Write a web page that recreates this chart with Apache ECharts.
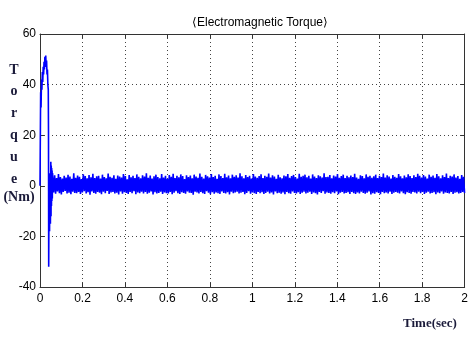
<!DOCTYPE html>
<html>
<head>
<meta charset="utf-8">
<script src="https://cdn.jsdelivr.net/npm/echarts@6/dist/echarts.min.js"></script>
<style>
  html, body { margin: 0; padding: 0; background: #fff; }
  #chart { width: 471px; height: 341px; }
</style>
</head>
<body>
<div id="chart"></div>
<script>
// x ticks (sec) and y ticks (Nm)
var timeTicks = [0, 0.2, 0.4, 0.6, 0.8, 1, 1.2, 1.4, 1.6, 1.8, 2];
var torqueTicks = [-40, -20, 0, 20, 40, 60];

// start-up transient, [time, torque]
var startTime = [0, 0.002, 0.003, 0.005, 0.007, 0.009, 0.011, 0.013, 0.015, 0.017, 0.019,
    0.021, 0.023, 0.025, 0.027, 0.029, 0.031, 0.033, 0.035, 0.037, 0.039, 0.040, 0.041,
    0.043, 0.045, 0.047, 0.049, 0.051, 0.052, 0.053, 0.054, 0.055, 0.056, 0.057, 0.058, 0.059];
var startTorque = [0, 0, 37, 31, 42, 38, 45, 41, 47, 44, 49,
    46, 51, 48, 51.5, 47, 49.5, 44, 46, 40, 38, 22, -32,
    5, -18, 3, -15, 9.5, -12, 8, -8, 7, -6, 6, -5, 5];

// steady state ripple, sampled every 4.5 ms from 0.06 s
var rippleStart = 0.06;
var rippleStep = 0.0045;
var rippleTorque = [
    3.8,-2.6,4.2,-3.1,3.1,-2.2,4.6,-2.9,3.5,-3.4,2.9,-2.4,4.0,-2.0,3.3,-3.0,4.4,-2.7,3.7,-3.3,2.8,-2.3,4.9,-2.8,
    3.2,-2.9,4.1,-2.4,3.6,-3.2,2.7,-2.6,4.5,-2.1,3.9,-3.0,3.0,-2.5,4.3,-3.5,3.4,-2.2,4.7,-2.8,3.1,-3.1,3.8,-2.4,
    4.0,-2.7,2.9,-3.3,4.4,-2.3,3.5,-2.9,3.0,-2.0,4.8,-3.2,3.6,-2.6,3.2,-2.4,4.2,-3.0,2.8,-2.7,4.1,-3.4,3.7,-2.2,
    3.3,-3.1,4.6,-2.5,3.9,-2.8,2.6,-3.2,4.3,-2.4,3.4,-2.9,4.0,-2.1,3.1,-3.3,4.5,-2.6,3.6,-2.9,3.0,-2.3,4.2,-3.0,
    3.7,-2.4,4.9,-3.1,3.2,-2.7,4.1,-2.2,2.9,-3.4,3.8,-2.5,4.4,-3.0,3.5,-2.8,3.0,-2.3,4.6,-3.2,3.3,-2.6,4.0,-2.9,
    2.8,-3.0,4.3,-2.4,3.6,-3.3,4.7,-2.7,3.1,-2.1,4.0,-2.9,3.4,-3.2,4.5,-2.5,3.9,-2.8,2.7,-3.1,4.2,-2.2,3.5,-2.7,
    4.1,-2.8,3.0,-3.5,4.4,-2.3,3.7,-2.6,3.2,-3.0,4.8,-2.4,3.6,-2.9,2.9,-3.2,4.3,-2.1,3.8,-2.7,3.3,-3.3,4.6,-2.5,
    3.5,-3.1,4.0,-2.6,2.8,-2.9,4.5,-3.2,3.9,-2.2,3.1,-2.8,4.7,-3.0,3.4,-2.5,4.1,-3.4,3.0,-2.3,4.4,-2.9,3.6,-2.6,
    4.2,-2.3,3.3,-3.0,4.9,-2.7,3.8,-2.4,3.0,-3.3,4.3,-2.8,3.5,-2.1,4.0,-3.1,2.9,-2.6,4.6,-2.9,3.7,-3.2,3.2,-2.4,
    3.9,-2.9,4.5,-2.5,3.1,-3.2,4.0,-2.8,3.6,-2.3,4.8,-3.0,3.3,-2.6,4.2,-3.4,3.7,-2.2,2.8,-2.9,4.4,-2.7,3.4,-3.1,
    3.0,-2.6,4.1,-3.3,3.8,-2.4,4.6,-2.9,3.2,-3.1,3.9,-2.2,4.3,-2.8,3.5,-3.0,2.9,-2.5,4.7,-3.2,3.6,-2.7,4.0,-2.3,
    4.4,-3.0,3.4,-2.7,4.0,-2.3,2.9,-3.2,4.5,-2.6,3.7,-2.9,3.1,-3.4,4.2,-2.4,3.8,-2.8,3.3,-2.1,4.9,-3.1,3.5,-2.6,
    3.6,-2.8,4.3,-3.1,3.0,-2.5,4.1,-2.9,3.7,-2.2,4.6,-3.3,3.2,-2.7,3.9,-2.4,4.4,-3.0,3.1,-2.8,4.0,-2.5,3.4,-3.2,
    4.1,-2.4,3.5,-2.9,4.7,-3.2,3.3,-2.6,2.8,-3.0,4.2,-2.3,3.9,-2.8,3.0,-3.1,4.5,-2.7,3.6,-2.2,4.0,-3.4,3.2,-2.9,
    3.8,-3.1,4.4,-2.5,3.1,-2.8,4.0,-3.3,3.5,-2.4,4.8,-2.9,3.3,-2.6,4.2,-3.0,3.7,-2.3,2.9,-3.2,4.3,-2.7,3.6,-2.4,
    3.2,-2.7,4.6,-3.0,3.8,-2.2,3.0,-2.9,4.1,-3.3,3.4,-2.5,4.5,-2.8,3.9,-3.1,3.1,-2.4,4.2,-2.6,3.5,-3.0,4.7,-2.3,
    4.0,-2.9,3.3,-2.4,4.3,-3.2,3.7,-2.7,2.9,-2.3,4.4,-3.0,3.6,-2.8,4.1,-2.5,3.2,-3.3,4.6,-2.6,3.8,-2.9,3.0,-2.2,
    4.2,-3.1,3.5,-2.6,4.8,-2.8,3.1,-3.0,4.0,-2.4,3.7,-3.2,4.5,-2.7,3.3,-2.5,3.9,-3.0,2.8,-2.8,4.3,-2.4,3.6,-2.9
];

var chart = echarts.init(document.getElementById('chart'), null, { renderer: 'canvas' });

var seriesData = [];
for (var i = 0; i < startTime.length; i++) {
    seriesData.push([startTime[i], startTorque[i]]);
}
for (var j = 0; j < rippleTorque.length; j++) {
    seriesData.push([+(rippleStart + j * rippleStep).toFixed(4), rippleTorque[j]]);
}

var tickFont = {
    fontFamily: '"Liberation Sans Narrow", "Liberation Sans", Arial, sans-serif',
    fontSize: 12,
    color: '#000'
};
var labelFont = 'bold 14px "Liberation Serif", "Times New Roman", serif';
var boxLine = { show: true, onZero: false, lineStyle: { color: '#333', width: 1 } };
var gridDots = { show: true, lineStyle: { color: '#444', width: 1, type: [1, 3] } };
var inTicks = { show: true, inside: true, length: 4, lineStyle: { color: '#333' } };

var option = {
    animation: false,
    backgroundColor: '#fff',
    title: {
        text: '\u27E8Electromagnetic Torque\u27E9',
        left: 255,
        top: 12,
        textAlign: 'center',
        textStyle: {
            fontFamily: '"Liberation Sans Narrow", "Liberation Sans", Arial, sans-serif',
            fontWeight: 'normal',
            fontSize: 12,
            color: '#000'
        }
    },
    grid: { left: 40, right: 1, top: 34, bottom: 54 },
    xAxis: [{
        type: 'value',
        min: timeTicks[0],
        max: timeTicks[timeTicks.length - 1],
        interval: 0.2,
        axisLine: boxLine,
        axisTick: inTicks,
        axisLabel: Object.assign({ margin: 6, showMaxLabel: true }, tickFont),
        splitLine: gridDots
    }, {
        type: 'value',
        position: 'top',
        min: timeTicks[0],
        max: timeTicks[timeTicks.length - 1],
        interval: 0.2,
        axisLine: boxLine,
        axisTick: inTicks,
        axisLabel: { show: false },
        splitLine: { show: false }
    }],
    yAxis: [{
        type: 'value',
        min: torqueTicks[0],
        max: torqueTicks[torqueTicks.length - 1],
        interval: 20,
        axisLine: boxLine,
        axisTick: inTicks,
        axisLabel: Object.assign({ margin: 4 }, tickFont),
        splitLine: gridDots
    }, {
        type: 'value',
        position: 'right',
        min: torqueTicks[0],
        max: torqueTicks[torqueTicks.length - 1],
        interval: 20,
        axisLine: boxLine,
        axisTick: inTicks,
        axisLabel: { show: false },
        splitLine: { show: false }
    }],
    graphic: [{
        type: 'text',
        x: 14,
        y: 59,
        style: {
            text: 'T\no\nr\nq\nu\ne',
            align: 'center',
            lineHeight: 21.8,
            font: labelFont,
            fill: '#1b1b3a'
        }
    }, {
        type: 'text',
        x: 19,
        y: 190,
        style: {
            text: '(Nm)',
            align: 'center',
            font: labelFont,
            fill: '#1b1b3a'
        }
    }, {
        type: 'text',
        left: 403,
        top: 317,
        style: {
            text: 'Time(sec)',
            font: 'bold 13px "Liberation Serif", "Times New Roman", serif',
            fill: '#1b1b3a'
        }
    }],
    series: [{
        type: 'line',
        data: seriesData,
        showSymbol: false,
        symbol: 'none',
        sampling: null,
        lineStyle: { color: '#0000ff', width: 1.6 },
        itemStyle: { color: '#0000ff' }
    }]
};

chart.setOption(option);
</script>
</body>
</html>
